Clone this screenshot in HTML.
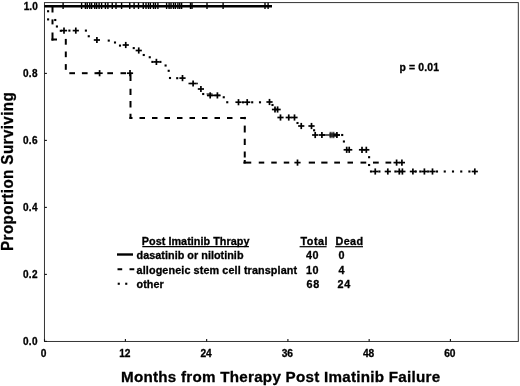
<!DOCTYPE html>
<html><head><meta charset="utf-8"><title>Survival</title>
<style>
html,body{margin:0;padding:0;background:#fff;}
svg{display:block;}
text{font-family:'Liberation Sans',sans-serif;font-weight:bold;fill:#000;stroke:#000;stroke-width:0.3px;}
</style></head><body>
<svg width="520" height="386" viewBox="0 0 520 386">
<rect width="520" height="386" fill="#fff"/>
<g shape-rendering="auto">
<rect x="44.45" y="2.6" width="473.85" height="338.85" fill="none" stroke="#2a2a2a" stroke-width="0.95"/>
<line x1="44.50" y1="6.40" x2="46.90" y2="6.40" stroke="#111" stroke-width="1.1" stroke-linecap="butt"/>
<line x1="44.50" y1="73.40" x2="46.90" y2="73.40" stroke="#111" stroke-width="1.1" stroke-linecap="butt"/>
<line x1="44.50" y1="140.40" x2="46.90" y2="140.40" stroke="#111" stroke-width="1.1" stroke-linecap="butt"/>
<line x1="44.50" y1="207.40" x2="46.90" y2="207.40" stroke="#111" stroke-width="1.1" stroke-linecap="butt"/>
<line x1="44.50" y1="274.40" x2="46.90" y2="274.40" stroke="#111" stroke-width="1.1" stroke-linecap="butt"/>
<line x1="44.50" y1="341.40" x2="46.90" y2="341.40" stroke="#111" stroke-width="1.1" stroke-linecap="butt"/>
<line x1="44.50" y1="341.40" x2="44.50" y2="338.90" stroke="#111" stroke-width="1.1" stroke-linecap="butt"/>
<line x1="125.40" y1="341.40" x2="125.40" y2="338.90" stroke="#111" stroke-width="1.1" stroke-linecap="butt"/>
<line x1="206.65" y1="341.40" x2="206.65" y2="338.90" stroke="#111" stroke-width="1.1" stroke-linecap="butt"/>
<line x1="287.91" y1="341.40" x2="287.91" y2="338.90" stroke="#111" stroke-width="1.1" stroke-linecap="butt"/>
<line x1="369.16" y1="341.40" x2="369.16" y2="338.90" stroke="#111" stroke-width="1.1" stroke-linecap="butt"/>
<line x1="450.41" y1="341.40" x2="450.41" y2="338.90" stroke="#111" stroke-width="1.1" stroke-linecap="butt"/>
<line x1="44.50" y1="6.20" x2="272.00" y2="6.20" stroke="#000" stroke-width="2.5" stroke-linecap="butt"/>
<line x1="63.10" y1="2.80" x2="63.10" y2="9.00" stroke="#000" stroke-width="1.4" stroke-linecap="butt"/>
<line x1="81.60" y1="2.80" x2="81.60" y2="9.00" stroke="#000" stroke-width="1.4" stroke-linecap="butt"/>
<line x1="85.40" y1="2.80" x2="85.40" y2="9.00" stroke="#000" stroke-width="1.4" stroke-linecap="butt"/>
<line x1="87.25" y1="2.80" x2="87.25" y2="9.00" stroke="#000" stroke-width="1.4" stroke-linecap="butt"/>
<line x1="89.75" y1="2.80" x2="89.75" y2="9.00" stroke="#000" stroke-width="1.4" stroke-linecap="butt"/>
<line x1="91.60" y1="2.80" x2="91.60" y2="9.00" stroke="#000" stroke-width="1.4" stroke-linecap="butt"/>
<line x1="94.75" y1="2.80" x2="94.75" y2="9.00" stroke="#000" stroke-width="1.4" stroke-linecap="butt"/>
<line x1="96.60" y1="2.80" x2="96.60" y2="9.00" stroke="#000" stroke-width="1.4" stroke-linecap="butt"/>
<line x1="99.10" y1="2.80" x2="99.10" y2="9.00" stroke="#000" stroke-width="1.4" stroke-linecap="butt"/>
<line x1="101.60" y1="2.80" x2="101.60" y2="9.00" stroke="#000" stroke-width="1.4" stroke-linecap="butt"/>
<line x1="105.40" y1="2.80" x2="105.40" y2="9.00" stroke="#000" stroke-width="1.4" stroke-linecap="butt"/>
<line x1="107.90" y1="2.80" x2="107.90" y2="9.00" stroke="#000" stroke-width="1.4" stroke-linecap="butt"/>
<line x1="112.25" y1="2.80" x2="112.25" y2="9.00" stroke="#000" stroke-width="1.4" stroke-linecap="butt"/>
<line x1="116.00" y1="2.80" x2="116.00" y2="9.00" stroke="#000" stroke-width="1.4" stroke-linecap="butt"/>
<line x1="121.60" y1="2.80" x2="121.60" y2="9.00" stroke="#000" stroke-width="1.4" stroke-linecap="butt"/>
<line x1="129.75" y1="2.80" x2="129.75" y2="9.00" stroke="#000" stroke-width="1.4" stroke-linecap="butt"/>
<line x1="134.10" y1="2.80" x2="134.10" y2="9.00" stroke="#000" stroke-width="1.4" stroke-linecap="butt"/>
<line x1="138.50" y1="2.80" x2="138.50" y2="9.00" stroke="#000" stroke-width="1.4" stroke-linecap="butt"/>
<line x1="143.25" y1="2.80" x2="143.25" y2="9.00" stroke="#000" stroke-width="1.4" stroke-linecap="butt"/>
<line x1="146.00" y1="2.80" x2="146.00" y2="9.00" stroke="#000" stroke-width="1.4" stroke-linecap="butt"/>
<line x1="148.50" y1="2.80" x2="148.50" y2="9.00" stroke="#000" stroke-width="1.4" stroke-linecap="butt"/>
<line x1="150.40" y1="2.80" x2="150.40" y2="9.00" stroke="#000" stroke-width="1.4" stroke-linecap="butt"/>
<line x1="153.50" y1="2.80" x2="153.50" y2="9.00" stroke="#000" stroke-width="1.4" stroke-linecap="butt"/>
<line x1="155.40" y1="2.80" x2="155.40" y2="9.00" stroke="#000" stroke-width="1.4" stroke-linecap="butt"/>
<line x1="157.90" y1="2.80" x2="157.90" y2="9.00" stroke="#000" stroke-width="1.4" stroke-linecap="butt"/>
<line x1="166.60" y1="2.80" x2="166.60" y2="9.00" stroke="#000" stroke-width="1.4" stroke-linecap="butt"/>
<line x1="169.10" y1="2.80" x2="169.10" y2="9.00" stroke="#000" stroke-width="1.4" stroke-linecap="butt"/>
<line x1="171.00" y1="2.80" x2="171.00" y2="9.00" stroke="#000" stroke-width="1.4" stroke-linecap="butt"/>
<line x1="173.50" y1="2.80" x2="173.50" y2="9.00" stroke="#000" stroke-width="1.4" stroke-linecap="butt"/>
<line x1="175.40" y1="2.80" x2="175.40" y2="9.00" stroke="#000" stroke-width="1.4" stroke-linecap="butt"/>
<line x1="177.90" y1="2.80" x2="177.90" y2="9.00" stroke="#000" stroke-width="1.4" stroke-linecap="butt"/>
<line x1="179.75" y1="2.80" x2="179.75" y2="9.00" stroke="#000" stroke-width="1.4" stroke-linecap="butt"/>
<line x1="181.60" y1="2.80" x2="181.60" y2="9.00" stroke="#000" stroke-width="1.4" stroke-linecap="butt"/>
<line x1="190.50" y1="2.80" x2="190.50" y2="9.00" stroke="#000" stroke-width="1.4" stroke-linecap="butt"/>
<line x1="192.00" y1="2.80" x2="192.00" y2="9.00" stroke="#000" stroke-width="1.4" stroke-linecap="butt"/>
<line x1="207.00" y1="2.80" x2="207.00" y2="9.00" stroke="#000" stroke-width="1.4" stroke-linecap="butt"/>
<line x1="223.10" y1="2.80" x2="223.10" y2="9.00" stroke="#000" stroke-width="1.4" stroke-linecap="butt"/>
<line x1="265.00" y1="2.80" x2="265.00" y2="9.00" stroke="#000" stroke-width="1.4" stroke-linecap="butt"/>
<line x1="268.10" y1="2.80" x2="268.10" y2="9.00" stroke="#000" stroke-width="1.4" stroke-linecap="butt"/>
<line x1="52.50" y1="6.00" x2="52.50" y2="12.50" stroke="#000" stroke-width="2.0" stroke-linecap="butt"/>
<line x1="52.50" y1="19.40" x2="52.50" y2="24.40" stroke="#000" stroke-width="2.0" stroke-linecap="butt"/>
<line x1="52.50" y1="32.50" x2="52.50" y2="40.60" stroke="#000" stroke-width="2.0" stroke-linecap="butt"/>
<line x1="51.40" y1="39.50" x2="57.00" y2="39.50" stroke="#000" stroke-width="2.0" stroke-linecap="butt"/>
<line x1="65.80" y1="38.90" x2="65.80" y2="44.70" stroke="#000" stroke-width="2.0" stroke-linecap="butt"/>
<line x1="65.80" y1="51.50" x2="65.80" y2="57.20" stroke="#000" stroke-width="2.0" stroke-linecap="butt"/>
<line x1="65.80" y1="64.10" x2="65.80" y2="69.80" stroke="#000" stroke-width="2.0" stroke-linecap="butt"/>
<line x1="69.30" y1="73.20" x2="75.00" y2="73.20" stroke="#000" stroke-width="2.0" stroke-linecap="butt"/>
<line x1="81.90" y1="73.20" x2="87.60" y2="73.20" stroke="#000" stroke-width="2.0" stroke-linecap="butt"/>
<line x1="94.50" y1="73.20" x2="100.00" y2="73.20" stroke="#000" stroke-width="2.0" stroke-linecap="butt"/>
<line x1="107.30" y1="73.20" x2="113.00" y2="73.20" stroke="#000" stroke-width="2.0" stroke-linecap="butt"/>
<line x1="120.50" y1="73.20" x2="126.00" y2="73.20" stroke="#000" stroke-width="2.0" stroke-linecap="butt"/>
<line x1="96.50" y1="73.20" x2="102.70" y2="73.20" stroke="#000" stroke-width="1.7" stroke-linecap="butt"/>
<line x1="99.60" y1="70.10" x2="99.60" y2="76.30" stroke="#000" stroke-width="1.7" stroke-linecap="butt"/>
<line x1="126.90" y1="73.20" x2="133.10" y2="73.20" stroke="#000" stroke-width="1.7" stroke-linecap="butt"/>
<line x1="130.00" y1="70.10" x2="130.00" y2="76.30" stroke="#000" stroke-width="1.7" stroke-linecap="butt"/>
<line x1="130.50" y1="72.50" x2="130.50" y2="81.00" stroke="#000" stroke-width="2.0" stroke-linecap="butt"/>
<line x1="130.50" y1="88.75" x2="130.50" y2="95.00" stroke="#000" stroke-width="2.0" stroke-linecap="butt"/>
<line x1="130.50" y1="101.00" x2="130.50" y2="107.50" stroke="#000" stroke-width="2.0" stroke-linecap="butt"/>
<line x1="130.50" y1="113.75" x2="130.50" y2="118.80" stroke="#000" stroke-width="2.0" stroke-linecap="butt"/>
<line x1="129.40" y1="118.00" x2="132.50" y2="118.00" stroke="#000" stroke-width="2.0" stroke-linecap="butt"/>
<line x1="139.50" y1="118.00" x2="145.00" y2="118.00" stroke="#000" stroke-width="2.0" stroke-linecap="butt"/>
<line x1="152.00" y1="118.00" x2="157.50" y2="118.00" stroke="#000" stroke-width="2.0" stroke-linecap="butt"/>
<line x1="164.50" y1="118.00" x2="170.00" y2="118.00" stroke="#000" stroke-width="2.0" stroke-linecap="butt"/>
<line x1="177.00" y1="118.00" x2="182.50" y2="118.00" stroke="#000" stroke-width="2.0" stroke-linecap="butt"/>
<line x1="189.50" y1="118.00" x2="195.00" y2="118.00" stroke="#000" stroke-width="2.0" stroke-linecap="butt"/>
<line x1="202.00" y1="118.00" x2="207.50" y2="118.00" stroke="#000" stroke-width="2.0" stroke-linecap="butt"/>
<line x1="214.50" y1="118.00" x2="220.00" y2="118.00" stroke="#000" stroke-width="2.0" stroke-linecap="butt"/>
<line x1="227.00" y1="118.00" x2="232.50" y2="118.00" stroke="#000" stroke-width="2.0" stroke-linecap="butt"/>
<line x1="240.20" y1="118.00" x2="245.70" y2="118.00" stroke="#000" stroke-width="2.0" stroke-linecap="butt"/>
<line x1="244.75" y1="116.90" x2="244.75" y2="119.20" stroke="#000" stroke-width="2.0" stroke-linecap="butt"/>
<line x1="244.75" y1="125.60" x2="244.75" y2="132.50" stroke="#000" stroke-width="2.0" stroke-linecap="butt"/>
<line x1="244.75" y1="138.75" x2="244.75" y2="145.00" stroke="#000" stroke-width="2.0" stroke-linecap="butt"/>
<line x1="244.75" y1="151.50" x2="244.75" y2="157.50" stroke="#000" stroke-width="2.0" stroke-linecap="butt"/>
<line x1="244.75" y1="160.00" x2="244.75" y2="163.50" stroke="#000" stroke-width="2.0" stroke-linecap="butt"/>
<line x1="243.40" y1="162.60" x2="251.25" y2="162.60" stroke="#000" stroke-width="2.0" stroke-linecap="butt"/>
<line x1="258.75" y1="162.60" x2="264.25" y2="162.60" stroke="#000" stroke-width="2.0" stroke-linecap="butt"/>
<line x1="271.25" y1="162.60" x2="276.75" y2="162.60" stroke="#000" stroke-width="2.0" stroke-linecap="butt"/>
<line x1="283.75" y1="162.60" x2="289.25" y2="162.60" stroke="#000" stroke-width="2.0" stroke-linecap="butt"/>
<line x1="308.75" y1="162.60" x2="315.00" y2="162.60" stroke="#000" stroke-width="2.0" stroke-linecap="butt"/>
<line x1="321.25" y1="162.60" x2="327.50" y2="162.60" stroke="#000" stroke-width="2.0" stroke-linecap="butt"/>
<line x1="334.25" y1="162.60" x2="340.00" y2="162.60" stroke="#000" stroke-width="2.0" stroke-linecap="butt"/>
<line x1="347.50" y1="162.60" x2="353.00" y2="162.60" stroke="#000" stroke-width="2.0" stroke-linecap="butt"/>
<line x1="360.50" y1="162.60" x2="366.25" y2="162.60" stroke="#000" stroke-width="2.0" stroke-linecap="butt"/>
<line x1="373.00" y1="162.60" x2="378.75" y2="162.60" stroke="#000" stroke-width="2.0" stroke-linecap="butt"/>
<line x1="385.50" y1="162.60" x2="391.25" y2="162.60" stroke="#000" stroke-width="2.0" stroke-linecap="butt"/>
<line x1="294.40" y1="162.60" x2="300.60" y2="162.60" stroke="#000" stroke-width="1.7" stroke-linecap="butt"/>
<line x1="297.50" y1="159.50" x2="297.50" y2="165.70" stroke="#000" stroke-width="1.7" stroke-linecap="butt"/>
<line x1="393.50" y1="162.60" x2="399.70" y2="162.60" stroke="#000" stroke-width="1.7" stroke-linecap="butt"/>
<line x1="396.60" y1="159.50" x2="396.60" y2="165.70" stroke="#000" stroke-width="1.7" stroke-linecap="butt"/>
<line x1="398.80" y1="162.60" x2="405.00" y2="162.60" stroke="#000" stroke-width="1.7" stroke-linecap="butt"/>
<line x1="401.90" y1="159.50" x2="401.90" y2="165.70" stroke="#000" stroke-width="1.7" stroke-linecap="butt"/>
<rect x="59.75" y="29.75" width="2.1" height="2.1" fill="#000"/>
<rect x="47.05" y="10.20" width="2.1" height="2.1" fill="#000"/>
<rect x="47.05" y="18.35" width="2.1" height="2.1" fill="#000"/>
<rect x="54.20" y="18.95" width="2.1" height="2.1" fill="#000"/>
<rect x="55.85" y="25.45" width="2.1" height="2.1" fill="#000"/>
<rect x="68.35" y="29.55" width="2.1" height="2.1" fill="#000"/>
<rect x="84.85" y="29.55" width="2.1" height="2.1" fill="#000"/>
<rect x="87.70" y="35.20" width="2.1" height="2.1" fill="#000"/>
<rect x="107.70" y="39.55" width="2.1" height="2.1" fill="#000"/>
<rect x="113.95" y="41.45" width="2.1" height="2.1" fill="#000"/>
<rect x="118.95" y="44.55" width="2.1" height="2.1" fill="#000"/>
<rect x="132.70" y="47.05" width="2.1" height="2.1" fill="#000"/>
<rect x="142.70" y="53.95" width="2.1" height="2.1" fill="#000"/>
<rect x="148.70" y="56.20" width="2.1" height="2.1" fill="#000"/>
<rect x="164.55" y="64.45" width="2.1" height="2.1" fill="#000"/>
<rect x="167.65" y="69.75" width="2.1" height="2.1" fill="#000"/>
<rect x="151.35" y="60.85" width="2.1" height="2.1" fill="#000"/>
<rect x="159.35" y="60.85" width="2.1" height="2.1" fill="#000"/>
<rect x="168.95" y="76.95" width="2.1" height="2.1" fill="#000"/>
<rect x="176.15" y="77.15" width="2.1" height="2.1" fill="#000"/>
<rect x="202.15" y="92.95" width="2.1" height="2.1" fill="#000"/>
<rect x="222.70" y="96.20" width="2.1" height="2.1" fill="#000"/>
<rect x="226.20" y="101.20" width="2.1" height="2.1" fill="#000"/>
<rect x="251.15" y="101.25" width="2.1" height="2.1" fill="#000"/>
<rect x="258.95" y="101.25" width="2.1" height="2.1" fill="#000"/>
<rect x="241.95" y="101.25" width="2.1" height="2.1" fill="#000"/>
<rect x="271.45" y="103.95" width="2.1" height="2.1" fill="#000"/>
<rect x="296.45" y="121.95" width="2.1" height="2.1" fill="#000"/>
<rect x="313.05" y="129.25" width="2.1" height="2.1" fill="#000"/>
<rect x="341.15" y="133.95" width="2.1" height="2.1" fill="#000"/>
<rect x="342.85" y="140.45" width="2.1" height="2.1" fill="#000"/>
<rect x="368.05" y="156.15" width="2.1" height="2.1" fill="#000"/>
<rect x="368.05" y="163.95" width="2.1" height="2.1" fill="#000"/>
<rect x="369.95" y="170.45" width="2.1" height="2.1" fill="#000"/>
<rect x="378.35" y="170.45" width="2.1" height="2.1" fill="#000"/>
<rect x="394.35" y="170.45" width="2.1" height="2.1" fill="#000"/>
<rect x="414.75" y="170.45" width="2.1" height="2.1" fill="#000"/>
<rect x="419.25" y="170.45" width="2.1" height="2.1" fill="#000"/>
<rect x="427.15" y="170.45" width="2.1" height="2.1" fill="#000"/>
<rect x="435.95" y="170.45" width="2.1" height="2.1" fill="#000"/>
<rect x="443.70" y="170.45" width="2.1" height="2.1" fill="#000"/>
<rect x="451.95" y="170.45" width="2.1" height="2.1" fill="#000"/>
<rect x="460.20" y="170.45" width="2.1" height="2.1" fill="#000"/>
<rect x="468.35" y="170.45" width="2.1" height="2.1" fill="#000"/>
<line x1="60.90" y1="30.60" x2="67.10" y2="30.60" stroke="#000" stroke-width="1.7" stroke-linecap="butt"/>
<line x1="64.00" y1="27.50" x2="64.00" y2="33.70" stroke="#000" stroke-width="1.7" stroke-linecap="butt"/>
<line x1="72.70" y1="30.60" x2="78.90" y2="30.60" stroke="#000" stroke-width="1.7" stroke-linecap="butt"/>
<line x1="75.80" y1="27.50" x2="75.80" y2="33.70" stroke="#000" stroke-width="1.7" stroke-linecap="butt"/>
<line x1="93.80" y1="40.00" x2="100.00" y2="40.00" stroke="#000" stroke-width="1.7" stroke-linecap="butt"/>
<line x1="96.90" y1="36.90" x2="96.90" y2="43.10" stroke="#000" stroke-width="1.7" stroke-linecap="butt"/>
<line x1="122.65" y1="45.00" x2="128.85" y2="45.00" stroke="#000" stroke-width="1.7" stroke-linecap="butt"/>
<line x1="125.75" y1="41.90" x2="125.75" y2="48.10" stroke="#000" stroke-width="1.7" stroke-linecap="butt"/>
<line x1="135.65" y1="50.50" x2="141.85" y2="50.50" stroke="#000" stroke-width="1.7" stroke-linecap="butt"/>
<line x1="138.75" y1="47.40" x2="138.75" y2="53.60" stroke="#000" stroke-width="1.7" stroke-linecap="butt"/>
<line x1="153.30" y1="61.90" x2="159.50" y2="61.90" stroke="#000" stroke-width="1.7" stroke-linecap="butt"/>
<line x1="156.40" y1="58.80" x2="156.40" y2="65.00" stroke="#000" stroke-width="1.7" stroke-linecap="butt"/>
<line x1="179.40" y1="78.10" x2="185.60" y2="78.10" stroke="#000" stroke-width="1.7" stroke-linecap="butt"/>
<line x1="182.50" y1="75.00" x2="182.50" y2="81.20" stroke="#000" stroke-width="1.7" stroke-linecap="butt"/>
<line x1="190.00" y1="83.50" x2="196.20" y2="83.50" stroke="#000" stroke-width="1.7" stroke-linecap="butt"/>
<line x1="193.10" y1="80.40" x2="193.10" y2="86.60" stroke="#000" stroke-width="1.7" stroke-linecap="butt"/>
<line x1="197.80" y1="89.00" x2="204.00" y2="89.00" stroke="#000" stroke-width="1.7" stroke-linecap="butt"/>
<line x1="200.90" y1="85.90" x2="200.90" y2="92.10" stroke="#000" stroke-width="1.7" stroke-linecap="butt"/>
<line x1="207.10" y1="95.40" x2="213.30" y2="95.40" stroke="#000" stroke-width="1.7" stroke-linecap="butt"/>
<line x1="210.20" y1="92.30" x2="210.20" y2="98.50" stroke="#000" stroke-width="1.7" stroke-linecap="butt"/>
<line x1="214.30" y1="95.40" x2="220.50" y2="95.40" stroke="#000" stroke-width="1.7" stroke-linecap="butt"/>
<line x1="217.40" y1="92.30" x2="217.40" y2="98.50" stroke="#000" stroke-width="1.7" stroke-linecap="butt"/>
<line x1="235.40" y1="102.20" x2="241.60" y2="102.20" stroke="#000" stroke-width="1.7" stroke-linecap="butt"/>
<line x1="238.50" y1="99.10" x2="238.50" y2="105.30" stroke="#000" stroke-width="1.7" stroke-linecap="butt"/>
<line x1="244.10" y1="102.20" x2="250.30" y2="102.20" stroke="#000" stroke-width="1.7" stroke-linecap="butt"/>
<line x1="247.20" y1="99.10" x2="247.20" y2="105.30" stroke="#000" stroke-width="1.7" stroke-linecap="butt"/>
<line x1="266.40" y1="102.00" x2="272.60" y2="102.00" stroke="#000" stroke-width="1.7" stroke-linecap="butt"/>
<line x1="269.50" y1="98.90" x2="269.50" y2="105.10" stroke="#000" stroke-width="1.7" stroke-linecap="butt"/>
<line x1="271.90" y1="109.50" x2="278.10" y2="109.50" stroke="#000" stroke-width="1.7" stroke-linecap="butt"/>
<line x1="275.00" y1="106.40" x2="275.00" y2="112.60" stroke="#000" stroke-width="1.7" stroke-linecap="butt"/>
<line x1="274.50" y1="109.50" x2="280.70" y2="109.50" stroke="#000" stroke-width="1.7" stroke-linecap="butt"/>
<line x1="277.60" y1="106.40" x2="277.60" y2="112.60" stroke="#000" stroke-width="1.7" stroke-linecap="butt"/>
<line x1="277.40" y1="117.50" x2="283.60" y2="117.50" stroke="#000" stroke-width="1.7" stroke-linecap="butt"/>
<line x1="280.50" y1="114.40" x2="280.50" y2="120.60" stroke="#000" stroke-width="1.7" stroke-linecap="butt"/>
<line x1="285.65" y1="117.50" x2="291.85" y2="117.50" stroke="#000" stroke-width="1.7" stroke-linecap="butt"/>
<line x1="288.75" y1="114.40" x2="288.75" y2="120.60" stroke="#000" stroke-width="1.7" stroke-linecap="butt"/>
<line x1="291.40" y1="117.50" x2="297.60" y2="117.50" stroke="#000" stroke-width="1.7" stroke-linecap="butt"/>
<line x1="294.50" y1="114.40" x2="294.50" y2="120.60" stroke="#000" stroke-width="1.7" stroke-linecap="butt"/>
<line x1="298.15" y1="126.00" x2="304.35" y2="126.00" stroke="#000" stroke-width="1.7" stroke-linecap="butt"/>
<line x1="301.25" y1="122.90" x2="301.25" y2="129.10" stroke="#000" stroke-width="1.7" stroke-linecap="butt"/>
<line x1="308.40" y1="126.00" x2="314.60" y2="126.00" stroke="#000" stroke-width="1.7" stroke-linecap="butt"/>
<line x1="311.50" y1="122.90" x2="311.50" y2="129.10" stroke="#000" stroke-width="1.7" stroke-linecap="butt"/>
<line x1="312.10" y1="135.00" x2="318.30" y2="135.00" stroke="#000" stroke-width="1.7" stroke-linecap="butt"/>
<line x1="315.20" y1="131.90" x2="315.20" y2="138.10" stroke="#000" stroke-width="1.7" stroke-linecap="butt"/>
<line x1="318.80" y1="135.00" x2="325.00" y2="135.00" stroke="#000" stroke-width="1.7" stroke-linecap="butt"/>
<line x1="321.90" y1="131.90" x2="321.90" y2="138.10" stroke="#000" stroke-width="1.7" stroke-linecap="butt"/>
<line x1="333.80" y1="135.00" x2="340.00" y2="135.00" stroke="#000" stroke-width="1.7" stroke-linecap="butt"/>
<line x1="336.90" y1="131.90" x2="336.90" y2="138.10" stroke="#000" stroke-width="1.7" stroke-linecap="butt"/>
<line x1="343.60" y1="149.80" x2="349.80" y2="149.80" stroke="#000" stroke-width="1.7" stroke-linecap="butt"/>
<line x1="346.70" y1="146.70" x2="346.70" y2="152.90" stroke="#000" stroke-width="1.7" stroke-linecap="butt"/>
<line x1="346.10" y1="149.80" x2="352.30" y2="149.80" stroke="#000" stroke-width="1.7" stroke-linecap="butt"/>
<line x1="349.20" y1="146.70" x2="349.20" y2="152.90" stroke="#000" stroke-width="1.7" stroke-linecap="butt"/>
<line x1="358.90" y1="149.80" x2="365.10" y2="149.80" stroke="#000" stroke-width="1.7" stroke-linecap="butt"/>
<line x1="362.00" y1="146.70" x2="362.00" y2="152.90" stroke="#000" stroke-width="1.7" stroke-linecap="butt"/>
<line x1="363.20" y1="149.80" x2="369.40" y2="149.80" stroke="#000" stroke-width="1.7" stroke-linecap="butt"/>
<line x1="366.30" y1="146.70" x2="366.30" y2="152.90" stroke="#000" stroke-width="1.7" stroke-linecap="butt"/>
<line x1="372.15" y1="171.50" x2="378.35" y2="171.50" stroke="#000" stroke-width="1.7" stroke-linecap="butt"/>
<line x1="375.25" y1="168.40" x2="375.25" y2="174.60" stroke="#000" stroke-width="1.7" stroke-linecap="butt"/>
<line x1="384.70" y1="171.50" x2="390.90" y2="171.50" stroke="#000" stroke-width="1.7" stroke-linecap="butt"/>
<line x1="387.80" y1="168.40" x2="387.80" y2="174.60" stroke="#000" stroke-width="1.7" stroke-linecap="butt"/>
<line x1="396.20" y1="171.50" x2="402.40" y2="171.50" stroke="#000" stroke-width="1.7" stroke-linecap="butt"/>
<line x1="399.30" y1="168.40" x2="399.30" y2="174.60" stroke="#000" stroke-width="1.7" stroke-linecap="butt"/>
<line x1="399.30" y1="171.50" x2="405.50" y2="171.50" stroke="#000" stroke-width="1.7" stroke-linecap="butt"/>
<line x1="402.40" y1="168.40" x2="402.40" y2="174.60" stroke="#000" stroke-width="1.7" stroke-linecap="butt"/>
<line x1="409.80" y1="171.50" x2="416.00" y2="171.50" stroke="#000" stroke-width="1.7" stroke-linecap="butt"/>
<line x1="412.90" y1="168.40" x2="412.90" y2="174.60" stroke="#000" stroke-width="1.7" stroke-linecap="butt"/>
<line x1="421.30" y1="171.50" x2="427.50" y2="171.50" stroke="#000" stroke-width="1.7" stroke-linecap="butt"/>
<line x1="424.40" y1="168.40" x2="424.40" y2="174.60" stroke="#000" stroke-width="1.7" stroke-linecap="butt"/>
<line x1="429.40" y1="171.50" x2="435.60" y2="171.50" stroke="#000" stroke-width="1.7" stroke-linecap="butt"/>
<line x1="432.50" y1="168.40" x2="432.50" y2="174.60" stroke="#000" stroke-width="1.7" stroke-linecap="butt"/>
<line x1="471.70" y1="171.50" x2="477.90" y2="171.50" stroke="#000" stroke-width="1.7" stroke-linecap="butt"/>
<line x1="474.80" y1="168.40" x2="474.80" y2="174.60" stroke="#000" stroke-width="1.7" stroke-linecap="butt"/>
<line x1="321.00" y1="135.00" x2="340.00" y2="135.00" stroke="#000" stroke-width="1.3" stroke-linecap="butt"/>
<line x1="330.20" y1="131.80" x2="330.20" y2="138.20" stroke="#000" stroke-width="1.0" stroke-linecap="butt"/>
<line x1="332.00" y1="131.80" x2="332.00" y2="138.20" stroke="#000" stroke-width="1.0" stroke-linecap="butt"/>
<line x1="333.80" y1="131.80" x2="333.80" y2="138.20" stroke="#000" stroke-width="1.0" stroke-linecap="butt"/>
<line x1="329.40" y1="133.70" x2="337.30" y2="133.70" stroke="#000" stroke-width="0.7" stroke-linecap="butt"/>
<line x1="329.40" y1="136.40" x2="337.30" y2="136.40" stroke="#000" stroke-width="0.7" stroke-linecap="butt"/>
<line x1="206.90" y1="95.40" x2="220.30" y2="95.40" stroke="#000" stroke-width="1.5" stroke-linecap="butt"/>
<line x1="206.50" y1="93.90" x2="212.60" y2="93.90" stroke="#000" stroke-width="0.9" stroke-linecap="butt"/>
<rect x="188.50" y="82.70" width="1.6" height="1.6" fill="#000"/>
<rect x="196.20" y="82.70" width="1.6" height="1.6" fill="#000"/>
<line x1="117.00" y1="254.50" x2="133.00" y2="254.50" stroke="#000" stroke-width="2.4" stroke-linecap="butt"/>
<line x1="117.50" y1="269.25" x2="122.20" y2="269.25" stroke="#000" stroke-width="2.0" stroke-linecap="butt"/>
<line x1="129.50" y1="269.25" x2="134.30" y2="269.25" stroke="#000" stroke-width="2.0" stroke-linecap="butt"/>
<rect x="117.70" y="282.70" width="2.1" height="2.1" fill="#000"/>
<rect x="125.20" y="282.70" width="2.1" height="2.1" fill="#000"/>
<line x1="142.30" y1="246.70" x2="248.90" y2="246.70" stroke="#000" stroke-width="1.2" stroke-linecap="butt"/>
<line x1="299.60" y1="246.70" x2="326.60" y2="246.70" stroke="#000" stroke-width="1.2" stroke-linecap="butt"/>
<line x1="335.20" y1="246.70" x2="363.00" y2="246.70" stroke="#000" stroke-width="1.2" stroke-linecap="butt"/>
</g>
<g>
<text x="23.7" y="9.8" font-size="10.0" text-anchor="start" textLength="14.0" lengthAdjust="spacing">1.0</text>
<text x="22.9" y="76.8" font-size="10.0" text-anchor="start" textLength="14.6" lengthAdjust="spacing">0.8</text>
<text x="22.9" y="143.8" font-size="10.0" text-anchor="start" textLength="14.6" lengthAdjust="spacing">0.6</text>
<text x="22.9" y="210.8" font-size="10.0" text-anchor="start" textLength="14.6" lengthAdjust="spacing">0.4</text>
<text x="22.9" y="277.8" font-size="10.0" text-anchor="start" textLength="14.6" lengthAdjust="spacing">0.2</text>
<text x="22.9" y="344.8" font-size="10.0" text-anchor="start" textLength="14.6" lengthAdjust="spacing">0.0</text>
<text x="43.55" y="357.4" font-size="10.2" text-anchor="middle">0</text>
<text x="124.8" y="357.4" font-size="10.2" text-anchor="middle">12</text>
<text x="206.05" y="357.4" font-size="10.2" text-anchor="middle">24</text>
<text x="287.31" y="357.4" font-size="10.2" text-anchor="middle">36</text>
<text x="368.56" y="357.4" font-size="10.2" text-anchor="middle">48</text>
<text x="449.81" y="357.4" font-size="10.2" text-anchor="middle">60</text>
<text x="121.0" y="381.9" font-size="15.2" text-anchor="start" textLength="319.1" lengthAdjust="spacing">Months from Therapy Post Imatinib Failure</text>
<text x="0" y="0" font-size="16.6" text-anchor="start" textLength="174.0" lengthAdjust="spacing" transform="translate(13.1 250.9) rotate(-90) scale(0.912 1)">Proportion Surviving</text>
<text x="399.6" y="70.7" font-size="10.4" text-anchor="start" textLength="39.4" lengthAdjust="spacing">p = 0.01</text>
<text x="141.8" y="244.5" font-size="10.8" text-anchor="start" textLength="107.6" lengthAdjust="spacing">Post Imatinib Thrapy</text>
<text x="300.5" y="244.5" font-size="10.8" text-anchor="start" textLength="27.0" lengthAdjust="spacing">Total</text>
<text x="335.5" y="244.5" font-size="10.8" text-anchor="start" textLength="27.6" lengthAdjust="spacing">Dead</text>
<text x="136.6" y="259.1" font-size="10.8" text-anchor="start" textLength="106.9" lengthAdjust="spacing">dasatinib or nilotinib</text>
<text x="136.6" y="273.55" font-size="10.8" text-anchor="start" textLength="160.5" lengthAdjust="spacing">allogeneic stem cell transplant</text>
<text x="136.6" y="287.6" font-size="10.8" text-anchor="start">other</text>
<text x="306.0" y="259.1" font-size="10.8" text-anchor="start" textLength="12.5" lengthAdjust="spacing">40</text>
<text x="338.4" y="259.1" font-size="10.8" text-anchor="start">0</text>
<text x="306.0" y="273.55" font-size="10.8" text-anchor="start" textLength="12.5" lengthAdjust="spacing">10</text>
<text x="338.4" y="273.55" font-size="10.8" text-anchor="start">4</text>
<text x="306.6" y="287.6" font-size="10.8" text-anchor="start" textLength="12.7" lengthAdjust="spacing">68</text>
<text x="337.6" y="287.6" font-size="10.8" text-anchor="start" textLength="12.7" lengthAdjust="spacing">24</text>
</g>
</svg>
</body></html>
